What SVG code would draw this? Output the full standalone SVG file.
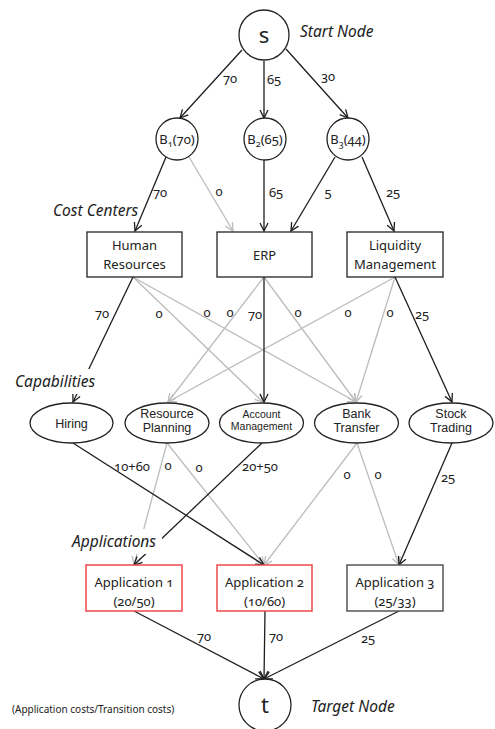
<svg xmlns="http://www.w3.org/2000/svg" width="495" height="729" viewBox="0 0 495 729">
  <style>
    text { font-family: "Noto Sans", "Open Sans", "Liberation Sans", sans-serif; fill: #222; font-variant-numeric: oldstyle-nums; }
    .node { fill: #fff; stroke: #222; stroke-width: 1.3; }
    .red { fill: #fff; stroke: #ec4a4c; stroke-width: 1.5; }
    .grayBox { fill: #fff; stroke: #555; stroke-width: 1.5; }
    .nt { font-size: 13px; text-anchor: middle; }
    .ct { font-family: "Liberation Sans", Arial, sans-serif; font-size: 12.5px; text-anchor: middle; }
    .small { font-family: "Liberation Sans", Arial, sans-serif; font-size: 10.5px; text-anchor: middle; }
    .big { font-size: 22px; text-anchor: middle; }
    .lbl { font-size: 13px; text-anchor: middle; }
    .cap { font-size: 15.5px; font-style: italic; }
    .note { font-size: 10px; }
    .e { fill: none; stroke-width: 1.3; }
    .k { stroke: #1e1e1e; marker-end: url(#ak); }
    .g { stroke: #bcbcbc; marker-end: url(#ag); }
    .mask { fill: #fff; stroke: none; }
  </style>
  <defs>
    <marker id="ak" markerUnits="userSpaceOnUse" markerWidth="12" markerHeight="12" refX="9" refY="5" orient="auto">
      <path d="M1,1 L9,5 L1,9" fill="none" stroke="#1e1e1e" stroke-width="1.3"/>
    </marker>
    <marker id="ag" markerUnits="userSpaceOnUse" markerWidth="12" markerHeight="12" refX="9" refY="5" orient="auto">
      <path d="M1,1 L9,5 L1,9" fill="none" stroke="#bcbcbc" stroke-width="1.3"/>
    </marker>
  </defs>

  <!-- connectors -->
  <g id="connectors">
    <!-- start node to bundles -->
    <line class="e k" x1="242" y1="50" x2="180" y2="118"/>
    <line class="e k" x1="264" y1="61" x2="264" y2="118"/>
    <line class="e k" x1="286" y1="49" x2="348" y2="118"/>
    <!-- bundles to cost centers -->
    <line class="e k" x1="166" y1="157" x2="135" y2="231"/>
    <line class="e g" x1="189" y1="157" x2="233" y2="231"/>
    <line class="e k" x1="264" y1="160" x2="264" y2="231"/>
    <line class="e k" x1="335" y1="157" x2="291" y2="231"/>
    <line class="e k" x1="362" y1="157" x2="394" y2="231"/>
    <!-- cost centers to capabilities -->
    <line class="e g" x1="133" y1="277" x2="263" y2="402"/>
    <line class="e g" x1="133" y1="277" x2="356" y2="402"/>
    <line class="e g" x1="264" y1="277" x2="168" y2="402"/>
    <line class="e g" x1="264" y1="277" x2="356" y2="402"/>
    <line class="e g" x1="395" y1="277" x2="168" y2="402"/>
    <line class="e g" x1="395" y1="277" x2="356" y2="402"/>
    <line class="e k" x1="133" y1="277" x2="73" y2="402"/>
    <line class="e k" x1="264" y1="277" x2="264" y2="402"/>
    <line class="e k" x1="395" y1="277" x2="452" y2="402"/>
    <!-- capabilities to applications -->
    <line class="e g" x1="167" y1="443" x2="134" y2="565"/>
    <line class="e g" x1="167" y1="443" x2="264" y2="565"/>
    <line class="e g" x1="357" y1="443" x2="264" y2="565"/>
    <line class="e g" x1="357" y1="443" x2="399" y2="565"/>
    <line class="e k" x1="73" y1="443" x2="264" y2="565"/>
    <line class="e k" x1="262" y1="443" x2="134" y2="565"/>
    <line class="e k" x1="452" y1="443" x2="399" y2="565"/>
    <!-- applications to target node -->
    <line class="e k" x1="134" y1="611" x2="264" y2="679"/>
    <line class="e k" x1="265" y1="611" x2="264" y2="679"/>
    <line class="e k" x1="399" y1="611" x2="264" y2="679"/>
  </g>

  <!-- edge weights -->
  <g id="weights">
    <text class="lbl" x="230" y="83">70</text>
    <text class="lbl" x="274" y="84">65</text>
    <text class="lbl" x="328" y="81">30</text>

    <text class="lbl" x="160" y="197">70</text>
    <text class="lbl" x="219" y="196">0</text>
    <text class="lbl" x="276" y="197">65</text>
    <text class="lbl" x="328" y="197">5</text>
    <text class="lbl" x="393" y="197">25</text>

    <text class="lbl" x="102" y="318">70</text>
    <text class="lbl" x="159" y="318">0</text>
    <text class="lbl" x="207" y="317">0</text>
    <text class="lbl" x="230" y="317">0</text>
    <text class="lbl" x="255" y="319">70</text>
    <text class="lbl" x="298" y="317">0</text>
    <text class="lbl" x="348" y="317">0</text>
    <text class="lbl" x="390" y="317">0</text>
    <text class="lbl" x="422" y="319">25</text>

    <text class="lbl" x="132" y="471">10+60</text>
    <text class="lbl" x="168" y="470">0</text>
    <text class="lbl" x="199" y="472">0</text>
    <text class="lbl" x="260" y="471">20+50</text>
    <text class="lbl" x="347" y="479">0</text>
    <text class="lbl" x="378" y="479">0</text>
    <text class="lbl" x="448" y="482">25</text>

    <text class="lbl" x="204" y="641">70</text>
    <text class="lbl" x="276" y="641">70</text>
    <text class="lbl" x="368" y="643">25</text>
  </g>

  <!-- layer captions -->
  <g id="captions">
    <text class="cap" x="300" y="37">Start Node</text>
    <text class="cap" x="53" y="216">Cost Centers</text>
    <rect class="mask" x="13" y="369" width="88" height="25"/>
    <text class="cap" x="15" y="387">Capabilities</text>
    <rect class="mask" x="70" y="529" width="92" height="25"/>
    <text class="cap" x="72" y="547">Applications</text>
    <text class="cap" x="311" y="712">Target Node</text>
    <text class="note" x="12" y="713">(Application costs/Transition costs)</text>
  </g>

  <!-- start and bundle nodes -->
  <g id="s">
    <circle class="node" cx="264" cy="35" r="25"/>
    <text class="big" x="264" y="43">s</text>
  </g>
  <g id="b1">
    <circle class="node" cx="177" cy="139" r="21"/>
    <text class="nt" x="177" y="144">B<tspan font-size="9" dy="3">1</tspan><tspan dy="-3">(70)</tspan></text>
  </g>
  <g id="b2">
    <circle class="node" cx="265" cy="139" r="21"/>
    <text class="nt" x="265" y="144">B<tspan font-size="9" dy="3">2</tspan><tspan dy="-3">(65)</tspan></text>
  </g>
  <g id="b3">
    <circle class="node" cx="348" cy="139" r="21"/>
    <text class="nt" x="348" y="144">B<tspan font-size="9" dy="3">3</tspan><tspan dy="-3">(44)</tspan></text>
  </g>

  <!-- cost centers -->
  <g id="hr">
    <rect class="node" x="87" y="232" width="95" height="45"/>
    <text class="nt" x="134.5" y="250">Human<tspan x="134.5" dy="19">Resources</tspan></text>
  </g>
  <g id="erp">
    <rect class="node" x="217" y="232" width="95" height="45"/>
    <text class="nt" x="264.5" y="260">ERP</text>
  </g>
  <g id="liquidity">
    <rect class="node" x="347" y="232" width="96" height="45"/>
    <text class="nt" x="395" y="250">Liquidity<tspan x="395" dy="19">Management</tspan></text>
  </g>

  <!-- capabilities -->
  <g id="hiring">
    <ellipse class="node" cx="71.5" cy="423" rx="41.5" ry="20"/>
    <text class="ct" x="71.5" y="427.5">Hiring</text>
  </g>
  <g id="resource-planning">
    <ellipse class="node" cx="167" cy="423" rx="42" ry="20"/>
    <text class="ct" x="167" y="418">Resource<tspan x="167" dy="14">Planning</tspan></text>
  </g>
  <g id="account-management">
    <ellipse class="node" cx="261.5" cy="423" rx="42" ry="20"/>
    <text class="small" x="261.5" y="418">Account<tspan x="261.5" dy="12">Management</tspan></text>
  </g>
  <g id="bank-transfer">
    <ellipse class="node" cx="356.5" cy="423" rx="42" ry="20"/>
    <text class="ct" x="356.5" y="418">Bank<tspan x="356.5" dy="14">Transfer</tspan></text>
  </g>
  <g id="stock-trading">
    <ellipse class="node" cx="451" cy="423" rx="42" ry="20"/>
    <text class="ct" x="451" y="418">Stock<tspan x="451" dy="14">Trading</tspan></text>
  </g>

  <!-- applications -->
  <g id="app1">
    <rect class="red" x="86" y="565" width="96" height="46"/>
    <text class="nt" x="134" y="587">Application 1<tspan x="134" dy="19">(20/50)</tspan></text>
  </g>
  <g id="app2">
    <rect class="red" x="217" y="565" width="95" height="46"/>
    <text class="nt" x="264.5" y="587">Application 2<tspan x="264.5" dy="19">(10/60)</tspan></text>
  </g>
  <g id="app3">
    <rect class="grayBox" x="347" y="565" width="96" height="46"/>
    <text class="nt" x="395" y="587">Application 3<tspan x="395" dy="19">(25/33)</tspan></text>
  </g>

  <!-- target node -->
  <g id="t">
    <circle class="node" cx="265" cy="705" r="26"/>
    <text class="big" x="265" y="713">t</text>
  </g>
</svg>
